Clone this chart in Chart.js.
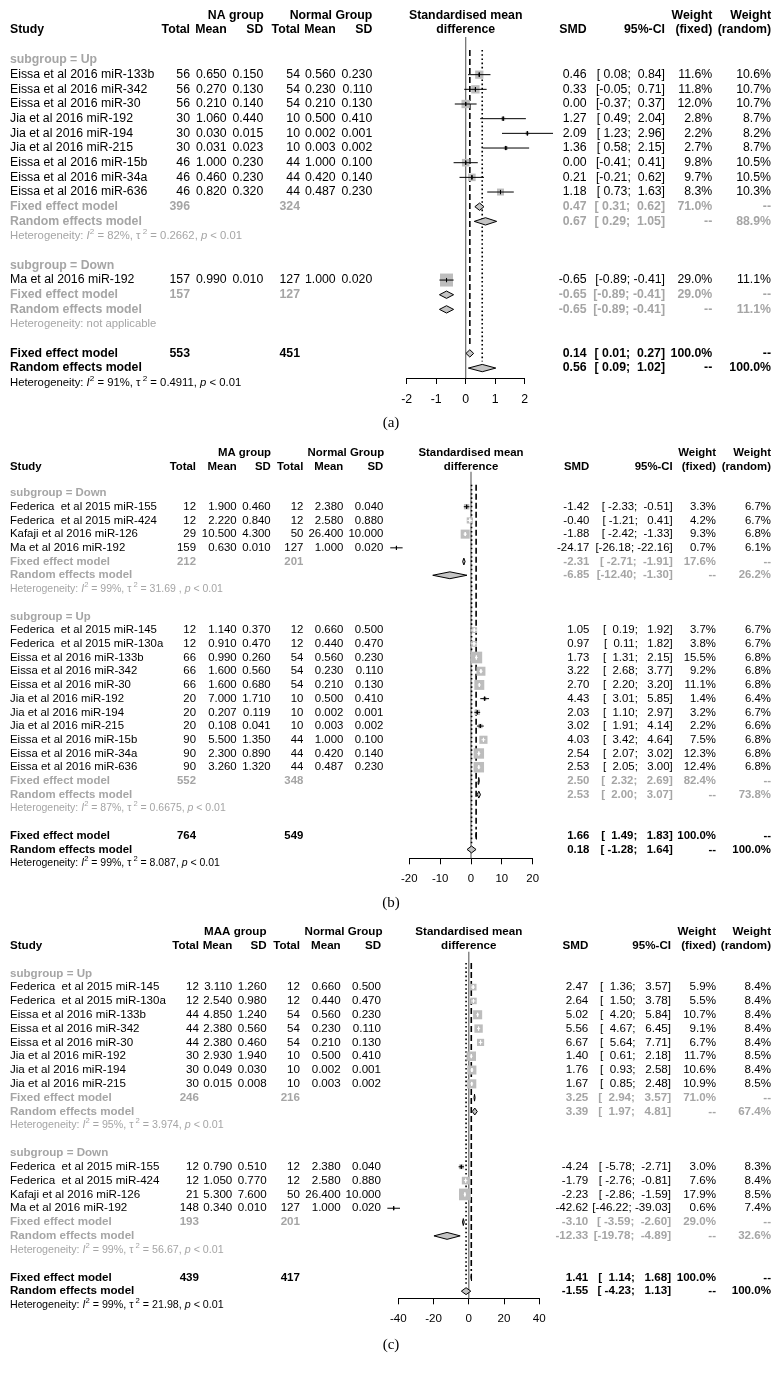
<!DOCTYPE html>
<html>
<head>
<meta charset="utf-8">
<script src="https://cdn.jsdelivr.net/npm/chart.js@4.4.1/dist/chart.umd.min.js"></script>
<style>
  body { margin: 0; background: #fff; }
  #page { position: relative; width: 782px; height: 1378px; background: #fff; }
  canvas { position: absolute; left: 0; }
</style>
</head>
<body>
<div id="page">
  <canvas id="chartA" width="782" height="432" style="top:0px"></canvas>
  <canvas id="chartB" width="782" height="480" style="top:432px"></canvas>
  <canvas id="chartC" width="782" height="466" style="top:912px"></canvas>
</div>
<script>
// Forest plots: SMD of miRNA expression, three comparisons (a), (b), (c)

// study rows: name, nExp, meanExp, sdExp, nCtl, meanCtl, sdCtl, smd, lower, upper, wFixed, wRandom
// fixed rows: nExp, nCtl, smd, lower, upper, wFixed
// random rows: smd, lower, upper, wRandom
// het: I2, tau2, p  (null = not applicable)

// --- panel (a) ---
const A_TICKS = [-2, -1, 0, 1, 2];
const A_UP = [
  ["Eissa et al 2016 miR-133b", 56, 0.650, 0.150, 54, 0.560, 0.230, 0.46, 0.08, 0.84, 11.6, 10.6],
  ["Eissa et al 2016 miR-342", 56, 0.270, 0.130, 54, 0.230, 0.110, 0.33, -0.05, 0.71, 11.8, 10.7],
  ["Eissa et al 2016 miR-30", 56, 0.210, 0.140, 54, 0.210, 0.130, 0.00, -0.37, 0.37, 12.0, 10.7],
  ["Jia et al 2016 miR-192", 30, 1.060, 0.440, 10, 0.500, 0.410, 1.27, 0.49, 2.04, 2.8, 8.7],
  ["Jia et al 2016 miR-194", 30, 0.030, 0.015, 10, 0.002, 0.001, 2.09, 1.23, 2.96, 2.2, 8.2],
  ["Jia et al 2016 miR-215", 30, 0.031, 0.023, 10, 0.003, 0.002, 1.36, 0.58, 2.15, 2.7, 8.7],
  ["Eissa et al 2016 miR-15b", 46, 1.000, 0.230, 44, 1.000, 0.100, 0.00, -0.41, 0.41, 9.8, 10.5],
  ["Eissa et al 2016 miR-34a", 46, 0.460, 0.230, 44, 0.420, 0.140, 0.21, -0.21, 0.62, 9.7, 10.5],
  ["Eissa et al 2016 miR-636", 46, 0.820, 0.320, 44, 0.487, 0.230, 1.18, 0.73, 1.63, 8.3, 10.3]
];
const A_UP_FIXED = [396, 324, 0.47, 0.31, 0.62, 71.0];
const A_UP_RANDOM = [0.67, 0.29, 1.05, 88.9];
const A_UP_HET = ["82%", "0.2662", "< 0.01"];
const A_DOWN = [
  ["Ma et al 2016 miR-192", 157, 0.990, 0.010, 127, 1.000, 0.020, -0.65, -0.89, -0.41, 29.0, 11.1]
];
const A_DOWN_FIXED = [157, 127, -0.65, -0.89, -0.41, 29.0];
const A_DOWN_RANDOM = [-0.65, -0.89, -0.41, 11.1];
const A_DOWN_HET = null;
const A_ALL_FIXED = [553, 451, 0.14, 0.01, 0.27, 100.0];
const A_ALL_RANDOM = [0.56, 0.09, 1.02, 100.0];
const A_ALL_HET = ["91%", "0.4911", "< 0.01"];

// --- panel (b) ---
const B_TICKS = [-20, -10, 0, 10, 20];
const B_DOWN = [
  ["Federica  et al 2015 miR-155", 12, 1.900, 0.460, 12, 2.380, 0.040, -1.42, -2.33, -0.51, 3.3, 6.7],
  ["Federica  et al 2015 miR-424", 12, 2.220, 0.840, 12, 2.580, 0.880, -0.40, -1.21, 0.41, 4.2, 6.7],
  ["Kafaji et al 2016 miR-126", 29, 10.500, 4.300, 50, 26.400, 10.000, -1.88, -2.42, -1.33, 9.3, 6.8],
  ["Ma et al 2016 miR-192", 159, 0.630, 0.010, 127, 1.000, 0.020, -24.17, -26.18, -22.16, 0.7, 6.1]
];
const B_DOWN_FIXED = [212, 201, -2.31, -2.71, -1.91, 17.6];
const B_DOWN_RANDOM = [-6.85, -12.40, -1.30, 26.2];
const B_DOWN_HET = ["99%", "31.69 ", "< 0.01"];
const B_UP = [
  ["Federica  et al 2015 miR-145", 12, 1.140, 0.370, 12, 0.660, 0.500, 1.05, 0.19, 1.92, 3.7, 6.7],
  ["Federica  et al 2015 miR-130a", 12, 0.910, 0.470, 12, 0.440, 0.470, 0.97, 0.11, 1.82, 3.8, 6.7],
  ["Eissa et al 2016 miR-133b", 66, 0.990, 0.260, 54, 0.560, 0.230, 1.73, 1.31, 2.15, 15.5, 6.8],
  ["Eissa et al 2016 miR-342", 66, 1.600, 0.560, 54, 0.230, 0.110, 3.22, 2.68, 3.77, 9.2, 6.8],
  ["Eissa et al 2016 miR-30", 66, 1.600, 0.680, 54, 0.210, 0.130, 2.70, 2.20, 3.20, 11.1, 6.8],
  ["Jia et al 2016 miR-192", 20, 7.000, 1.710, 10, 0.500, 0.410, 4.43, 3.01, 5.85, 1.4, 6.4],
  ["Jia et al 2016 miR-194", 20, 0.207, 0.119, 10, 0.002, 0.001, 2.03, 1.10, 2.97, 3.2, 6.7],
  ["Jia et al 2016 miR-215", 20, 0.108, 0.041, 10, 0.003, 0.002, 3.02, 1.91, 4.14, 2.2, 6.6],
  ["Eissa et al 2016 miR-15b", 90, 5.500, 1.350, 44, 1.000, 0.100, 4.03, 3.42, 4.64, 7.5, 6.8],
  ["Eissa et al 2016 miR-34a", 90, 2.300, 0.890, 44, 0.420, 0.140, 2.54, 2.07, 3.02, 12.3, 6.8],
  ["Eissa et al 2016 miR-636", 90, 3.260, 1.320, 44, 0.487, 0.230, 2.53, 2.05, 3.00, 12.4, 6.8]
];
const B_UP_FIXED = [552, 348, 2.50, 2.32, 2.69, 82.4];
const B_UP_RANDOM = [2.53, 2.00, 3.07, 73.8];
const B_UP_HET = ["87%", "0.6675", "< 0.01"];
const B_ALL_FIXED = [764, 549, 1.66, 1.49, 1.83, 100.0];
const B_ALL_RANDOM = [0.18, -1.28, 1.64, 100.0];
const B_ALL_HET = ["99%", "8.087", "< 0.01"];

// --- panel (c) ---
const C_TICKS = [-40, -20, 0, 20, 40];
const C_UP = [
  ["Federica  et al 2015 miR-145", 12, 3.110, 1.260, 12, 0.660, 0.500, 2.47, 1.36, 3.57, 5.9, 8.4],
  ["Federica  et al 2015 miR-130a", 12, 2.540, 0.980, 12, 0.440, 0.470, 2.64, 1.50, 3.78, 5.5, 8.4],
  ["Eissa et al 2016 miR-133b", 44, 4.850, 1.240, 54, 0.560, 0.230, 5.02, 4.20, 5.84, 10.7, 8.4],
  ["Eissa et al 2016 miR-342", 44, 2.380, 0.560, 54, 0.230, 0.110, 5.56, 4.67, 6.45, 9.1, 8.4],
  ["Eissa et al 2016 miR-30", 44, 2.380, 0.460, 54, 0.210, 0.130, 6.67, 5.64, 7.71, 6.7, 8.4],
  ["Jia et al 2016 miR-192", 30, 2.930, 1.940, 10, 0.500, 0.410, 1.40, 0.61, 2.18, 11.7, 8.5],
  ["Jia et al 2016 miR-194", 30, 0.049, 0.030, 10, 0.002, 0.001, 1.76, 0.93, 2.58, 10.6, 8.4],
  ["Jia et al 2016 miR-215", 30, 0.015, 0.008, 10, 0.003, 0.002, 1.67, 0.85, 2.48, 10.9, 8.5]
];
const C_UP_FIXED = [246, 216, 3.25, 2.94, 3.57, 71.0];
const C_UP_RANDOM = [3.39, 1.97, 4.81, 67.4];
const C_UP_HET = ["95%", "3.974", "< 0.01"];
const C_DOWN = [
  ["Federica  et al 2015 miR-155", 12, 0.790, 0.510, 12, 2.380, 0.040, -4.24, -5.78, -2.71, 3.0, 8.3],
  ["Federica  et al 2015 miR-424", 12, 1.050, 0.770, 12, 2.580, 0.880, -1.79, -2.76, -0.81, 7.6, 8.4],
  ["Kafaji et al 2016 miR-126", 21, 5.300, 7.600, 50, 26.400, 10.000, -2.23, -2.86, -1.59, 17.9, 8.5],
  ["Ma et al 2016 miR-192", 148, 0.340, 0.010, 127, 1.000, 0.020, -42.62, -46.22, -39.03, 0.6, 7.4]
];
const C_DOWN_FIXED = [193, 201, -3.10, -3.59, -2.60, 29.0];
const C_DOWN_RANDOM = [-12.33, -19.78, -4.89, 32.6];
const C_DOWN_HET = ["99%", "56.67", "< 0.01"];
const C_ALL_FIXED = [439, 417, 1.41, 1.14, 1.68, 100.0];
const C_ALL_RANDOM = [-1.55, -4.23, 1.13, 100.0];
const C_ALL_HET = ["99%", "21.98", "< 0.01"];

const PANEL_A = {
  group: "NA group", ticks: A_TICKS,
  subgroups: [["Up", A_UP, A_UP_FIXED, A_UP_RANDOM, A_UP_HET],
              ["Down", A_DOWN, A_DOWN_FIXED, A_DOWN_RANDOM, A_DOWN_HET]],
  overall: [A_ALL_FIXED, A_ALL_RANDOM, A_ALL_HET]
};
const PANEL_B = {
  group: "MA group", ticks: B_TICKS,
  subgroups: [["Down", B_DOWN, B_DOWN_FIXED, B_DOWN_RANDOM, B_DOWN_HET],
              ["Up", B_UP, B_UP_FIXED, B_UP_RANDOM, B_UP_HET]],
  overall: [B_ALL_FIXED, B_ALL_RANDOM, B_ALL_HET]
};
const PANEL_C = {
  group: "MAA group", ticks: C_TICKS,
  subgroups: [["Up", C_UP, C_UP_FIXED, C_UP_RANDOM, C_UP_HET],
              ["Down", C_DOWN, C_DOWN_FIXED, C_DOWN_RANDOM, C_DOWN_HET]],
  overall: [C_ALL_FIXED, C_ALL_RANDOM, C_ALL_HET]
};

// --- layout (pixels within each canvas) ---
const LAYOUT_A = {
  id: "chartA", height: 432, caption: "(a)", captionY: 423,
  font: 12.3, row0: 60, rowH: 14.67, top: 25, axisY: 378,
  xLeft: 406.7, xRight: 524.7, hdr: [-3.05, -2.05], refTop: -1.57, poolTop: -0.68, boxMax: 13,
  col: { name: 10, expN: 190, expMean: 226.7, expSD: 263.3, ctlN: 300, ctlMean: 335.7, ctlSD: 372.3,
         expHead: 235.8, ctlHead: 331, smd: 586.7, ci: 665, wf: 712.3, wr: 771 }
};
const LAYOUT_B = {
  id: "chartB", height: 480, caption: "(b)", captionY: 471,
  font: 11.4, row0: 61, rowH: 13.71, top: 25, axisY: 426.3,
  xLeft: 409.3, xRight: 532.7, hdr: [-2.92, -1.9], refTop: -1.55, poolTop: -0.6, boxMax: 11.7,
  col: { name: 10, expN: 196, expMean: 236.7, expSD: 270.7, ctlN: 303.3, ctlMean: 343.3, ctlSD: 383.3,
         expHead: 244.5, ctlHead: 345.8, smd: 589.3, ci: 672.7, wf: 716, wr: 771 }
};
const LAYOUT_C = {
  id: "chartC", height: 466, caption: "(c)", captionY: 433,
  font: 11.6, row0: 61.3, rowH: 13.82, top: 25, axisY: 386.3,
  xLeft: 398.3, xRight: 539.3, hdr: [-3.01, -2.0], refTop: -1.56, poolTop: -0.75, boxMax: 11.7,
  col: { name: 10, expN: 199, expMean: 232.3, expSD: 266.7, ctlN: 300, ctlMean: 340.7, ctlSD: 381,
         expHead: 235.3, ctlHead: 343.5, smd: 588.3, ci: 671, wf: 716, wr: 771 }
};

const FONT = '"Liberation Sans", Arial, Helvetica, sans-serif';
const GREY = "#a5a5a5";

// --- rows ---

function buildRows(P) {
  var rows = [];
  var r = 0;
  function pooled(kind, v, sub) {
    if (kind === "fixed") {
      rows.push({ kind: kind, row: r++, sub: sub, nE: v[0], nC: v[1], est: v[2], lo: v[3], hi: v[4], wf: v[5], wr: null });
    } else {
      rows.push({ kind: kind, row: r++, sub: sub, est: v[0], lo: v[1], hi: v[2], wf: null, wr: v[3] });
    }
  }
  P.subgroups.forEach(function(g) {
    rows.push({ kind: "label", row: r++, text: "subgroup = " + g[0] });
    g[1].forEach(function(s) {
      rows.push({ kind: "study", row: r++, name: s[0], nE: s[1], mE: s[2], sdE: s[3], nC: s[4], mC: s[5], sdC: s[6],
                  est: s[7], lo: s[8], hi: s[9], wf: s[10], wr: s[11] });
    });
    pooled("fixed", g[2], true);
    pooled("random", g[3], true);
    rows.push({ kind: "het", row: r++, sub: true, het: g[4] });
    r++;
  });
  pooled("fixed", P.overall[0], false);
  pooled("random", P.overall[1], false);
  rows.push({ kind: "het", row: r++, sub: false, het: P.overall[2] });
  return rows;
}

function fmtW(v) { return v == null ? "--" : v.toFixed(1) + "%"; }

function ciFormatter(rows) {
  var withCi = rows.filter(function(q) { return q.lo !== undefined; });
  var lw = 0, hw = 0;
  withCi.forEach(function(q) {
    lw = Math.max(lw, q.lo.toFixed(2).length);
    hw = Math.max(hw, q.hi.toFixed(2).length);
  });
  return function(q) {
    return "[" + q.lo.toFixed(2).padStart(lw) + "; " + q.hi.toFixed(2).padStart(hw) + "]";
  };
}

// CI drawn white when it sits inside its box
function inkColor(lo, hi, side) {
  return function(ctx) {
    var x = ctx.chart.scales.x;
    return Math.abs(x.getPixelForValue(hi) - x.getPixelForValue(lo)) < side ? "#ffffff" : "#000000";
  };
}

function buildDatasets(L, rows, yMax) {
  var studies = rows.filter(function(q) { return q.kind === "study"; });
  var wmax = Math.max.apply(null, studies.map(function(q) { return q.wf; }));
  var fixedAll = rows.filter(function(q) { return q.kind === "fixed" && !q.sub; })[0];
  var randomAll = rows.filter(function(q) { return q.kind === "random" && !q.sub; })[0];
  var base = { pointRadius: 0, fill: false, clip: false, tension: 0, borderWidth: 1 };
  var sets = [];

  // no-effect line, fixed (dashed) and random (dotted) lines
  sets.push(Object.assign({}, base, { data: [{ x: 0, y: L.refTop }, { x: 0, y: yMax }],
    borderColor: "#6a6a6a", borderWidth: 1.2, order: 10 }));
  sets.push(Object.assign({}, base, { data: [{ x: fixedAll.est, y: L.poolTop }, { x: fixedAll.est, y: fixedAll.row - 0.45 }],
    borderColor: "#000", borderWidth: 1.6, borderDash: [6, 3], order: 9 }));
  sets.push(Object.assign({}, base, { data: [{ x: randomAll.est, y: L.poolTop }, { x: randomAll.est, y: randomAll.row - 0.45 }],
    borderColor: "#000", borderWidth: 1.6, borderDash: [1.6, 2.6], order: 9 }));

  // study boxes, area ~ fixed weight
  sets.push({
    data: studies.map(function(q) { return { x: q.est, y: q.row, side: L.boxMax * Math.sqrt(q.wf / wmax) }; }),
    showLine: false, pointStyle: "rect", clip: false, order: 5,
    pointRadius: function(ctx) { return ctx.raw ? ctx.raw.side / Math.SQRT2 : 0; },
    pointBackgroundColor: "#bdbdbd", pointBorderWidth: 0, borderColor: "#bdbdbd"
  });

  studies.forEach(function(q) {
    var side = L.boxMax * Math.sqrt(q.wf / wmax);
    var ink = inkColor(q.lo, q.hi, side);
    sets.push(Object.assign({}, base, { data: [{ x: q.lo, y: q.row }, { x: q.hi, y: q.row }], borderColor: ink, order: 2 }));
    sets.push(Object.assign({}, base, { data: [{ x: q.est, y: q.row - 0.14 }, { x: q.est, y: q.row + 0.14 }], borderColor: ink, order: 1 }));
  });

  // pooled diamonds
  rows.filter(function(q) { return q.kind === "fixed" || q.kind === "random"; }).forEach(function(q) {
    sets.push(Object.assign({}, base, {
      data: [{ x: q.lo, y: q.row }, { x: q.est, y: q.row - 0.25 }, { x: q.hi, y: q.row },
             { x: q.est, y: q.row + 0.25 }, { x: q.lo, y: q.row }],
      borderColor: "#000", backgroundColor: "#c4c4c4", fill: "shape", order: 4
    }));
  });
  return sets;
}

// --- text ---

function put(ctx, text, x, y, align, font, color) {
  ctx.font = font;
  ctx.fillStyle = color;
  ctx.textAlign = align;
  ctx.textBaseline = "middle";
  ctx.fillText(text, x, y);
}

function drawHet(ctx, x, y, het, size, color) {
  var n = size + "px " + FONT, it = "italic " + n, sup = (size * 0.72).toFixed(1) + "px " + FONT;
  var parts = het ? [
    ["Heterogeneity: ", n, 0], ["I", it, 0], ["2", sup, -0.38], [" = " + het[0] + ", ", n, 0],
    ["\u03c4", n, 0], [" 2", sup, -0.38], [" = " + het[1] + ", ", n, 0], ["p", it, 0], [" " + het[2], n, 0]
  ] : [["Heterogeneity: not applicable", n, 0]];
  ctx.fillStyle = color;
  ctx.textAlign = "left";
  ctx.textBaseline = "middle";
  var cx = x;
  parts.forEach(function(pt) {
    ctx.font = pt[1];
    ctx.fillText(pt[0], cx, y + pt[2] * size);
    cx += ctx.measureText(pt[0]).width;
  });
}

function textPlugin(L, P, rows) {
  var ci = ciFormatter(rows);
  return {
    id: "forestText",
    afterDraw: function(chart) {
      var ctx = chart.ctx, ys = chart.scales.y, c = L.col;
      var n = L.font + "px " + FONT, b = "bold " + n;
      var mid = (chart.chartArea.left + chart.chartArea.right) / 2;
      ctx.save();

      // header
      var h0 = ys.getPixelForValue(L.hdr[0]), h1 = ys.getPixelForValue(L.hdr[1]);
      put(ctx, P.group, c.expHead, h0, "center", b, "#000");
      put(ctx, "Normal Group", c.ctlHead, h0, "center", b, "#000");
      put(ctx, "Standardised mean", mid, h0, "center", b, "#000");
      put(ctx, "Weight", c.wf, h0, "right", b, "#000");
      put(ctx, "Weight", c.wr, h0, "right", b, "#000");
      put(ctx, "Study", c.name, h1, "left", b, "#000");
      put(ctx, "Total", c.expN, h1, "right", b, "#000");
      put(ctx, "Mean", c.expMean, h1, "right", b, "#000");
      put(ctx, "SD", c.expSD, h1, "right", b, "#000");
      put(ctx, "Total", c.ctlN, h1, "right", b, "#000");
      put(ctx, "Mean", c.ctlMean, h1, "right", b, "#000");
      put(ctx, "SD", c.ctlSD, h1, "right", b, "#000");
      put(ctx, "difference", mid, h1, "center", b, "#000");
      put(ctx, "SMD", c.smd, h1, "right", b, "#000");
      put(ctx, "95%-CI", c.ci, h1, "right", b, "#000");
      put(ctx, "(fixed)", c.wf, h1, "right", b, "#000");
      put(ctx, "(random)", c.wr, h1, "right", b, "#000");

      rows.forEach(function(q) {
        var y = ys.getPixelForValue(q.row);
        var col = q.sub ? GREY : "#000";
        if (q.kind === "label") {
          put(ctx, q.text, c.name, y, "left", b, GREY);
        } else if (q.kind === "study") {
          put(ctx, q.name, c.name, y, "left", n, "#000");
          put(ctx, String(q.nE), c.expN, y, "right", n, "#000");
          put(ctx, q.mE.toFixed(3), c.expMean, y, "right", n, "#000");
          put(ctx, q.sdE.toFixed(3), c.expSD, y, "right", n, "#000");
          put(ctx, String(q.nC), c.ctlN, y, "right", n, "#000");
          put(ctx, q.mC.toFixed(3), c.ctlMean, y, "right", n, "#000");
          put(ctx, q.sdC.toFixed(3), c.ctlSD, y, "right", n, "#000");
          put(ctx, q.est.toFixed(2), c.smd, y, "right", n, "#000");
          put(ctx, ci(q), c.ci, y, "right", n, "#000");
          put(ctx, fmtW(q.wf), c.wf, y, "right", n, "#000");
          put(ctx, fmtW(q.wr), c.wr, y, "right", n, "#000");
        } else if (q.kind === "fixed" || q.kind === "random") {
          put(ctx, q.kind === "fixed" ? "Fixed effect model" : "Random effects model", c.name, y, "left", b, col);
          if (q.kind === "fixed") {
            put(ctx, String(q.nE), c.expN, y, "right", b, col);
            put(ctx, String(q.nC), c.ctlN, y, "right", b, col);
          }
          put(ctx, q.est.toFixed(2), c.smd, y, "right", b, col);
          put(ctx, ci(q), c.ci, y, "right", b, col);
          put(ctx, fmtW(q.wf), c.wf, y, "right", b, col);
          put(ctx, fmtW(q.wr), c.wr, y, "right", b, col);
        } else if (q.kind === "het") {
          drawHet(ctx, c.name, y, q.het, +(L.font * 0.92).toFixed(1), col);
        }
      });

      put(ctx, L.caption, 391, L.captionY, "center", "15px \"Liberation Serif\", \"Times New Roman\", serif", "#000");
      ctx.restore();
    }
  };
}

// --- charts ---

function makeChart(L, P) {
  var rows = buildRows(P);
  var yMin = (L.top - L.row0) / L.rowH;
  var yMax = (L.axisY - L.row0) / L.rowH;
  return new Chart(document.getElementById(L.id), {
    type: "line",
    data: { datasets: buildDatasets(L, rows, yMax) },
    options: {
      responsive: false,
      animation: false,
      devicePixelRatio: 1,
      events: [],
      layout: { padding: { left: L.xLeft, right: 782 - L.xRight, top: L.top, bottom: 0 } },
      plugins: { legend: { display: false }, tooltip: { enabled: false }, title: { display: false } },
      scales: {
        x: {
          type: "linear",
          min: P.ticks[0],
          max: P.ticks[P.ticks.length - 1],
          bounds: "data",
          afterBuildTicks: function(s) { s.ticks = P.ticks.map(function(v) { return { value: v }; }); },
          afterFit: function(s) { s.height = L.height - L.axisY; },
          grid: { drawOnChartArea: false, drawTicks: true, tickLength: 6, color: "#000", lineWidth: 1 },
          border: { display: true, color: "#000", width: 1 },
          ticks: { color: "#000", font: { family: FONT, size: L.font }, padding: 8, maxRotation: 0, autoSkip: false }
        },
        y: { type: "linear", display: false, reverse: true, bounds: "data", min: yMin, max: yMax }
      }
    },
    plugins: [textPlugin(L, P, rows)]
  });
}

makeChart(LAYOUT_A, PANEL_A);
makeChart(LAYOUT_B, PANEL_B);
makeChart(LAYOUT_C, PANEL_C);
</script>
</body>
</html>
